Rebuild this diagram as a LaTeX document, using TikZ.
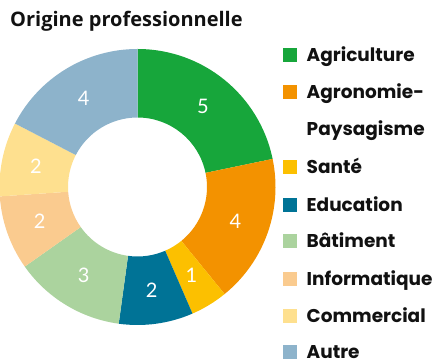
\documentclass[tikz,border=0pt]{standalone}
\usepackage{fontspec}
\setmainfont{Open Sans}
\newfontfamily\legfont{Poppins}
\newfontfamily\valfont{Lato}
\usetikzlibrary{calc}
\definecolor{agri}{HTML}{17A63B}
\definecolor{agro}{HTML}{F39200}
\definecolor{sante}{HTML}{FCC000}
\definecolor{edu}{HTML}{007396}
\definecolor{bat}{HTML}{ABD39E}
\definecolor{info}{HTML}{FACB8F}
\definecolor{comm}{HTML}{FEE08F}
\definecolor{autre}{HTML}{8DB3CB}
\definecolor{txt}{HTML}{111111}
\tikzset{
  val/.style={text=white,font=\valfont\fontsize{20}{20}\selectfont,inner sep=0pt},
  legsq/.style={minimum size=14pt,inner sep=0pt,anchor=center},
  legtxt/.style={text=txt,font=\legfont\bfseries\fontsize{18.5}{19}\selectfont,anchor=base west,inner sep=0pt},
  ttl/.style={text=txt,font=\bfseries\fontsize{20}{20}\selectfont,anchor=base west,inner sep=0pt}
}
\begin{document}
\begin{tikzpicture}[x=1pt,y=1pt]
\useasboundingbox (0,0) rectangle (438,363);
\coordinate (C) at (137.5,176);
\node[ttl] (title) at (10,336.5) {Origine professionnelle};
\foreach \s/\v/\col/\n in {0/5/agri/a,5/4/agro/b,9/1/sante/c,10/2/edu/d,12/3/bat/e,15/2/info/f,17/2/comm/g,19/4/autre/h}{
  \pgfmathsetmacro\a{90-\s*360/23}
  \pgfmathsetmacro\b{90-(\s+\v)*360/23}
  \pgfmathsetmacro\m{(\a+\b)/2}
  \fill[\col] ($(C)+(\a:138)$) arc[start angle=\a,end angle=\b,radius=138pt]
     -- ($(C)+(\b:69.5)$) arc[start angle=\b,end angle=\a,radius=69.5pt] -- cycle;
  \node[val] (v\n) at ($(C)+(\m:103.8)$) {\v};
}
\foreach \y/\col/\t/\n in {308/agri/Agriculture/a,271/agro/Agronomie-/b,196/sante/Santé/c,158/edu/Education/d,122/bat/Bâtiment/e,84/info/Informatique/f,47/comm/Commercial/g,11/autre/Autre/h}{
  \node[legsq,fill=\col] (s\n) at (290.3,\y) {};
  \node[legtxt] (l\n) at (306.5,\y-6.5) {\t};
}
\node[legtxt] (lb2) at (306.5,227.5) {Paysagisme};
\end{tikzpicture}
\end{document}
